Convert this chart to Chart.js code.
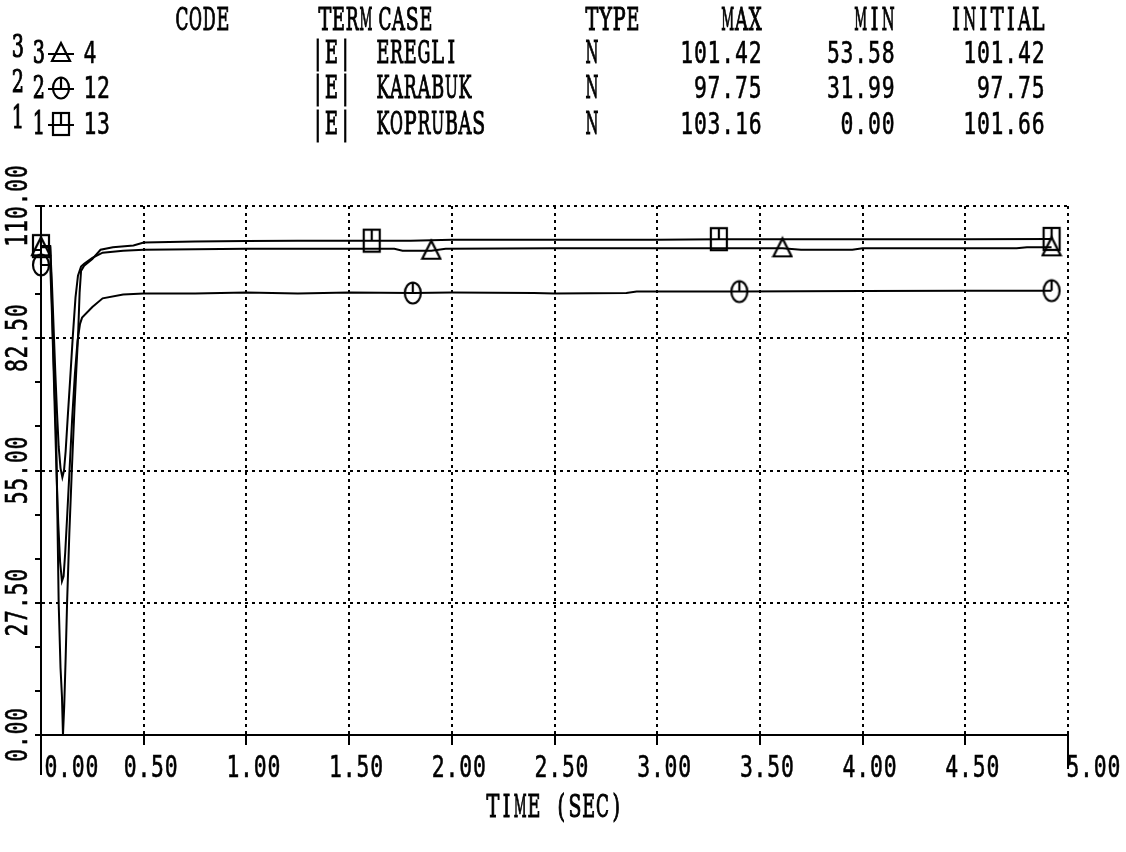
<!DOCTYPE html>
<html>
<head>
<meta charset="utf-8">
<script src="https://cdn.jsdelivr.net/npm/chart.js@4"></script>
<style>
  html, body { margin: 0; padding: 0; background: #fff; }
  canvas { display: block; }
</style>
</head>
<body>
<canvas id="c" width="1126" height="852"></canvas>
<script>
// Bus voltage magnitude after the disturbance, one pair of arrays per bus:
// time in seconds and voltage value.
const koprubasT = [0, 0.045, 0.052, 0.058, 0.066, 0.074, 0.08, 0.086, 0.095, 0.102, 0.107, 0.113, 0.12, 0.127, 0.138, 0.15, 0.163, 0.172, 0.18, 0.188, 0.195, 0.21, 0.25, 0.29, 0.35, 0.45, 0.5, 0.75, 1.0, 1.25, 1.5, 1.61, 1.8, 2.0, 2.5, 3.0, 3.3, 3.6, 4.0, 4.5, 4.92];
const koprubasV = [101.66, 101.66, 92, 82.5, 72, 62, 45, 27.5, 14, 8, 0, 6, 16, 27.5, 42, 55, 68, 76, 82.5, 92, 96.5, 97.6, 99, 100.9, 101.4, 101.8, 102.4, 102.6, 102.7, 102.8, 102.8, 102.8, 102.8, 103.0, 103.0, 103.0, 103.1, 103.1, 103.1, 103.1, 103.16];
const koprubasMarks = [0, 1.61, 3.3, 4.92];

const karabukT = [0, 0.045, 0.053, 0.06, 0.068, 0.076, 0.084, 0.093, 0.102, 0.11, 0.118, 0.128, 0.14, 0.152, 0.165, 0.178, 0.19, 0.2, 0.25, 0.3, 0.4, 0.5, 0.75, 1.0, 1.25, 1.5, 1.81, 2.0, 2.4, 2.5, 2.85, 2.9, 3.4, 4.0, 4.5, 4.92];
const karabukV = [97.75, 97.75, 88, 78, 66, 54, 44, 36, 31.99, 33, 38, 46, 56, 66, 75, 82, 85.5, 86.8, 89, 90.8, 91.6, 91.8, 91.8, 92.0, 91.8, 92.0, 91.9, 92.0, 91.9, 91.8, 91.9, 92.2, 92.2, 92.3, 92.4, 92.4];
const karabukMarks = [0, 1.81, 3.4, 4.92];

const eregliT = [0, 0.045, 0.054, 0.062, 0.07, 0.078, 0.086, 0.095, 0.104, 0.112, 0.12, 0.13, 0.142, 0.155, 0.168, 0.18, 0.195, 0.21, 0.25, 0.3, 0.4, 0.5, 0.75, 1.0, 1.5, 1.72, 1.76, 1.9, 1.97, 2.5, 3.0, 3.61, 3.7, 3.95, 4.0, 4.5, 4.75, 4.8, 4.92];
const eregliV = [101.42, 101.42, 93, 84, 75, 67, 60, 55.5, 53.58, 55, 59, 66, 74, 83, 91, 95.5, 97.4, 98, 99.2, 100.3, 100.7, 100.9, 101.0, 101.1, 101.1, 101.1, 100.7, 100.7, 101.1, 101.2, 101.2, 101.2, 100.9, 100.9, 101.2, 101.2, 101.2, 101.4, 101.4];
const eregliMarks = [0, 1.9, 3.61, 4.92];

// Table rows above the plot (listed top to bottom)
const rowNumbers = ['3', '2', '1'];
const busCodes = ['4', '12', '13'];
const busTerms = ['|E|', '|E|', '|E|'];
const busNames = ['EREGLI', 'KARABUK', 'KOPRUBAS'];
const busTypes = ['N', 'N', 'N'];
const tableHeaders = ['CODE', 'TERM', 'CASE', 'TYPE', 'MAX', 'MIN', 'INITIAL'];

// Axis ticks
const xTicks = [0, 0.5, 1.0, 1.5, 2.0, 2.5, 3.0, 3.5, 4.0, 4.5, 5.0];
const xTickLabels = ['0.00', '0.50', '1.00', '1.50', '2.00', '2.50', '3.00', '3.50', '4.00', '4.50', '5.00'];
const yTicks = [0, 27.5, 55, 82.5, 110];
const yTickLabels = ['0.00', '27.50', '55.00', '82.50', '110.00'];
const xTitle = 'TIME (SEC)';

// ---- marker glyphs ----
function makeMarker(kind) {
  const c = document.createElement('canvas');
  c.width = 22; c.height = 26;
  const g = c.getContext('2d');
  g.strokeStyle = '#000';
  g.lineWidth = 2.2;
  if (kind === 'square') {
    g.strokeRect(3, 2, 16, 22);
    g.beginPath(); g.moveTo(11, 2); g.lineTo(11, 13); g.stroke();
  } else if (kind === 'circle') {
    g.beginPath(); g.ellipse(11, 13, 8, 10.5, 0, 0, Math.PI * 2); g.stroke();
    g.beginPath(); g.moveTo(11, 2.5); g.lineTo(11, 13); g.stroke();
  } else {
    g.beginPath(); g.moveTo(11, 3); g.lineTo(20, 21); g.lineTo(2, 21); g.closePath(); g.stroke();
  }
  return c;
}
const markerImgs = { triangle: makeMarker('triangle'), circle: makeMarker('circle'), square: makeMarker('square') };

function series(label, T, V, marks, img) {
  return {
    label,
    data: T.map((t, i) => ({ x: t, y: V[i] })),
    borderColor: '#000',
    borderWidth: 2,
    fill: false,
    tension: 0,
    clip: false,
    pointStyle: img,
    pointRadius: ctx => (marks.includes(T[ctx.dataIndex]) ? 10 : 0),
    pointHoverRadius: 0,
    pointHitRadius: 0
  };
}

const datasets = [
  series('EREGLI', eregliT, eregliV, eregliMarks, markerImgs.triangle),
  series('KARABUK', karabukT, karabukV, karabukMarks, markerImgs.circle),
  series('KOPRUBAS', koprubasT, koprubasV, koprubasMarks, markerImgs.square)
];
const rowValues = [eregliV, karabukV, koprubasV];
const rowMarkers = [markerImgs.triangle, markerImgs.circle, markerImgs.square];

// ---- printer-style lettering: every character in a fixed-width cell ----
const PITCH = 13.7;
const SANS = { font: '31px "DejaVu Sans Mono"', sx: 0.735, stroke: 0.6 };
const SERIF = { font: '31px "DejaVu Serif"', sx: 0.62, stroke: 1.1 };

function mono(ctx, s, x, y, align, f) {
  const w = s.length * PITCH;
  let x0 = align === 'right' ? x - w : align === 'center' ? x - w / 2 : x;
  ctx.save();
  ctx.font = f.font;
  ctx.fillStyle = '#000';
  ctx.strokeStyle = '#000';
  ctx.lineWidth = f.stroke;
  ctx.textAlign = 'center';
  ctx.textBaseline = 'alphabetic';
  for (let i = 0; i < s.length; i++) {
    const ch = s[i];
    if (ch === ' ') continue;
    const cw = ctx.measureText(ch).width;
    const sx = Math.min(f.sx, (PITCH - 0.8) / cw);
    ctx.save();
    ctx.translate(x0 + (i + 0.5) * PITCH, y);
    ctx.scale(sx, 1);
    ctx.fillText(ch, 0, 0);
    ctx.strokeText(ch, 0, 0);
    ctx.restore();
  }
  ctx.restore();
}

const isMajorY = v => yTicks.some(m => Math.abs(m - v) < 1e-6);

const decorations = {
  id: 'decorations',
  afterDraw(chart) {
    const ctx = chart.ctx;
    const xs = chart.scales.x, ys = chart.scales.y;
    const area = chart.chartArea;

    // long end ticks below the time axis
    ctx.save();
    ctx.strokeStyle = '#000';
    ctx.lineWidth = 2;
    ctx.beginPath();
    ctx.moveTo(area.left, area.bottom); ctx.lineTo(area.left, area.bottom + 40);
    ctx.moveTo(area.right, area.bottom); ctx.lineTo(area.right, area.bottom + 34);
    ctx.stroke();
    ctx.restore();

    // time axis labels (the two end labels sit clear of the end ticks)
    const last = xTicks.length - 1;
    xTicks.forEach((v, i) => {
      const px = xs.getPixelForValue(v);
      if (i === 0) {
        mono(ctx, xTickLabels[i], px + 3, area.bottom + 42, 'left', SANS);
      } else if (i === last) {
        mono(ctx, xTickLabels[i], px - 2, area.bottom + 42, 'left', SANS);
      } else {
        mono(ctx, xTickLabels[i], px + 7, area.bottom + 42, 'center', SANS);
      }
    });
    mono(ctx, xTitle, (area.left + area.right) / 2, area.bottom + 82, 'center', SERIF);

    // vertical axis labels, reading bottom to top
    yTicks.forEach((v, i) => {
      ctx.save();
      ctx.translate(27, ys.getPixelForValue(v));
      ctx.rotate(-Math.PI / 2);
      mono(ctx, yTickLabels[i], 0, 0, 'center', SANS);
      ctx.restore();
    });

    // table header
    const hy = 30;
    mono(ctx, tableHeaders[0], 175, hy, 'left', SERIF);
    mono(ctx, tableHeaders[1], 318, hy, 'left', SERIF);
    mono(ctx, tableHeaders[2], 378, hy, 'left', SERIF);
    mono(ctx, tableHeaders[3], 585, hy, 'left', SERIF);
    mono(ctx, tableHeaders[4], 762, hy, 'right', SERIF);
    mono(ctx, tableHeaders[5], 895, hy, 'right', SERIF);
    mono(ctx, tableHeaders[6], 1045, hy, 'right', SERIF);

    // table rows
    const rowY = [63, 98, 134];
    rowY.forEach((y, r) => {
      const vals = rowValues[r];
      const vMax = Math.max(...vals).toFixed(2);
      const vMin = Math.min(...vals).toFixed(2);
      const vInit = vals[0].toFixed(2);
      mono(ctx, rowNumbers[r], 11, y - 6, 'left', SERIF);
      mono(ctx, rowNumbers[r], 32, y, 'left', SERIF);
      // legend symbol: short line with the series marker
      ctx.save();
      ctx.strokeStyle = '#000';
      ctx.lineWidth = 2;
      ctx.beginPath(); ctx.moveTo(48, y - 9); ctx.lineTo(74, y - 9); ctx.stroke();
      const img = rowMarkers[r];
      ctx.drawImage(img, 61 - img.width / 2, y - 10 - img.height / 2);
      ctx.restore();
      mono(ctx, busCodes[r], 83, y, 'left', SANS);
      mono(ctx, busTerms[r], 311, y, 'left', SERIF);
      mono(ctx, busNames[r], 376, y, 'left', SERIF);
      mono(ctx, busTypes[r], 585, y, 'left', SERIF);
      mono(ctx, vMax, 762, y, 'right', SANS);
      mono(ctx, vMin, 895, y, 'right', SANS);
      mono(ctx, vInit, 1045, y, 'right', SANS);
    });
  }
};

new Chart(document.getElementById('c'), {
  type: 'line',
  data: { datasets },
  options: {
    responsive: false,
    animation: false,
    events: [],
    layout: { padding: { top: 206, right: 58, bottom: 0, left: 0 } },
    plugins: { legend: { display: false }, tooltip: { enabled: false } },
    scales: {
      x: {
        type: 'linear',
        min: 0,
        max: 5,
        afterBuildTicks: s => { s.ticks = xTicks.map(v => ({ value: v })); },
        afterFit: s => { s.height = 117; },
        ticks: { display: false },
        grid: { color: '#000', lineWidth: 2, tickLength: 10, tickColor: '#000', tickWidth: 2 },
        border: { display: true, color: '#000', width: 2, dash: [3, 4] }
      },
      y: {
        type: 'linear',
        min: 0,
        max: 110,
        afterBuildTicks: s => {
          const vals = [];
          for (let i = 0; i < yTicks.length - 1; i++) {
            const a = yTicks[i], b = yTicks[i + 1];
            vals.push(a, a + (b - a) / 3, a + 2 * (b - a) / 3);
          }
          vals.push(yTicks[yTicks.length - 1]);
          s.ticks = vals.map(v => ({ value: v }));
        },
        afterFit: s => { s.width = 41; },
        ticks: { display: false },
        grid: {
          color: c => (c.tick && isMajorY(c.tick.value) ? '#000' : 'rgba(0,0,0,0)'),
          lineWidth: c => (c.tick && isMajorY(c.tick.value) ? 2 : 0),
          tickLength: 6,
          tickColor: '#000',
          tickWidth: 2
        },
        border: { display: true, color: '#000', width: 2, dash: [3, 4] }
      }
    }
  },
  plugins: [decorations]
});
</script>
</body>
</html>
